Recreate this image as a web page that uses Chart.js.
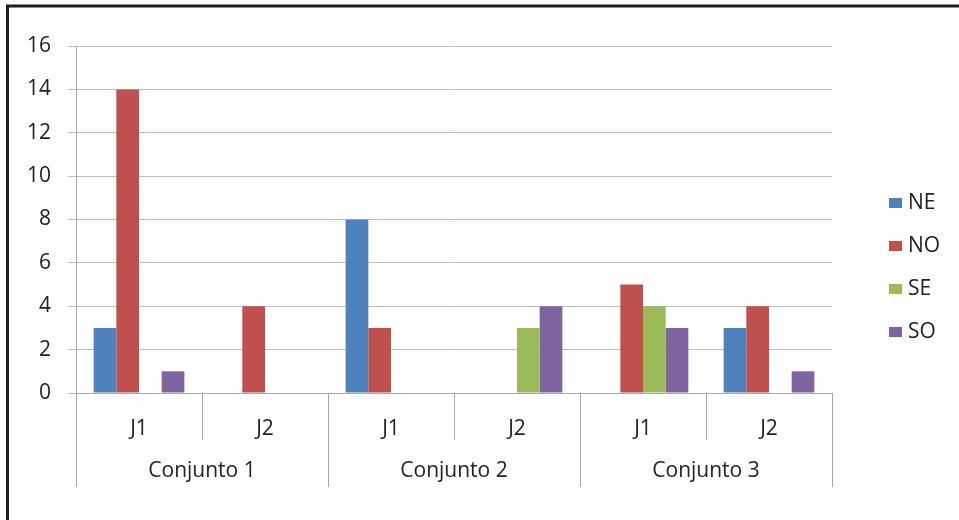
<!DOCTYPE html>
<html>
<head>
<meta charset="utf-8">
<script src="https://cdn.jsdelivr.net/npm/chart.js@4.4.1/dist/chart.umd.min.js"></script>
<style>
  html, body { margin: 0; padding: 0; background: #fff; }
  #wrap { width: 959px; height: 520px; position: relative; }
</style>
</head>
<body>
<div id="wrap"><canvas id="chart" width="959" height="520"></canvas></div>
<script>
const grupos = ["Conjunto 1", "Conjunto 2", "Conjunto 3"];
const jugadas = ["J1", "J2", "J1", "J2", "J1", "J2"];
const serieNE = [3, 0, 8, 0, 0, 3];
const serieNO = [14, 4, 3, 0, 5, 4];
const serieSE = [0, 0, 0, 3, 4, 0];
const serieSO = [1, 0, 0, 4, 3, 1];
const yTicks = [0, 2, 4, 6, 8, 10, 12, 14, 16];

const FONT = "'Open Sans', sans-serif";
const TEXT = "#222";
const LINE = "#a9a9a9";

// frame, two-level category axis and legend on the right
const extras = {
  id: "extras",
  beforeDraw(chart) {
    const ctx = chart.ctx;
    ctx.save();
    ctx.fillStyle = "#fff";
    ctx.fillRect(0, 0, chart.width, chart.height);
    ctx.restore();
  },
  afterDraw(chart) {
    const ctx = chart.ctx;
    const x = chart.scales.x;
    const area = chart.chartArea;
    const w = (area.right - area.left) / jugadas.length;

    ctx.save();
    // outer frame (left and top)
    ctx.strokeStyle = "#1e1e1e";
    ctx.lineWidth = 3;
    ctx.beginPath();
    ctx.moveTo(7.5, chart.height);
    ctx.lineTo(7.5, 6);
    ctx.lineTo(chart.width, 6);
    ctx.stroke();

    // separators below axis
    ctx.strokeStyle = LINE;
    ctx.lineWidth = 1;
    for (let k = 0; k <= jugadas.length; k++) {
      const px = Math.round(x.getPixelForValue(k) - w / 2) + 0.5;
      const len = k % 2 === 0 ? 94 : 47;
      ctx.beginPath();
      ctx.moveTo(px, area.bottom);
      ctx.lineTo(px, area.bottom + len);
      ctx.stroke();
    }

    // group labels
    ctx.fillStyle = TEXT;
    ctx.font = "21px " + FONT;
    ctx.textAlign = "center";
    ctx.textBaseline = "middle";
    grupos.forEach((g, i) => {
      const cx = (x.getPixelForValue(2 * i) + x.getPixelForValue(2 * i + 1)) / 2;
      ctx.fillText(g, cx, 471);
    });

    // legend
    ctx.textAlign = "left";
    chart.data.datasets.forEach((ds, i) => {
      const cy = 203 + i * 43;
      ctx.fillStyle = ds.backgroundColor;
      ctx.fillRect(889, cy - 5, 13, 10);
      ctx.fillStyle = TEXT;
      ctx.fillText(ds.label, 908, cy);
    });
    ctx.restore();
  }
};

new Chart(document.getElementById("chart"), {
  type: "bar",
  data: {
    labels: jugadas,
    datasets: [
      { label: "NE", data: serieNE, backgroundColor: "#4f81bd" },
      { label: "NO", data: serieNO, backgroundColor: "#c0504d" },
      { label: "SE", data: serieSE, backgroundColor: "#9bbb59" },
      { label: "SO", data: serieSO, backgroundColor: "#8064a2" }
    ]
  },
  options: {
    responsive: false,
    animation: false,
    devicePixelRatio: 1,
    datasets: { bar: { categoryPercentage: 0.72, barPercentage: 1 } },
    layout: { padding: { top: 46, right: 127, bottom: 0, left: 0 } },
    plugins: { legend: { display: false }, tooltip: { enabled: false } },
    scales: {
      x: {
        grid: { display: false },
        border: { display: true, color: LINE, width: 1 },
        ticks: { color: TEXT, font: { family: FONT, size: 21 }, padding: 15 },
        afterFit(scale) { scale.height = 127; }
      },
      y: {
        min: 0,
        max: 16,
        afterBuildTicks(scale) { scale.ticks = yTicks.map(v => ({ value: v })); },
        grid: { color: "#bdbdbd", tickLength: 8 },
        border: { display: true, color: LINE, width: 1 },
        ticks: { color: TEXT, font: { family: FONT, size: 21 }, padding: 17 },
        afterFit(scale) { scale.width = 76; }
      }
    }
  },
  plugins: [extras]
});
</script>
</body>
</html>
